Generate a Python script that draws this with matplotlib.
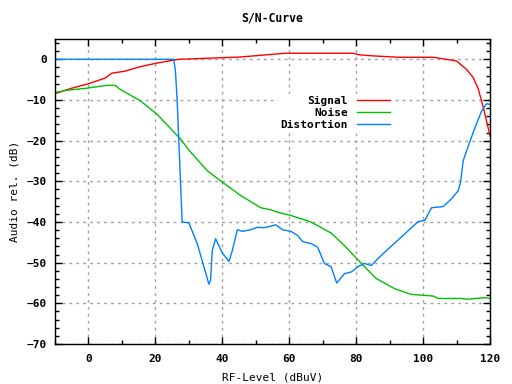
import numpy as np
import matplotlib
matplotlib.use("Agg")
import matplotlib.pyplot as plt
from matplotlib.ticker import MultipleLocator

# Daten
sig_x = [-10, -5, 0, 5, 7, 11, 15, 20, 25, 27, 35, 45, 59, 79, 81, 85, 93, 103,
         107, 110, 113, 115, 116.5, 118, 120]
sig_y = [-8.4, -7.1, -6.0, -4.6, -3.4, -2.9, -1.9, -1.0, -0.25, 0, 0.25, 0.55, 1.5,
         1.5, 1.1, 0.85, 0.5, 0.5, 0, -0.4, -2.5, -4.5, -7.3, -11.8, -18.8]

noise_x = [-10, -6.5, -0.5, 5.5, 8, 9.5, 15.5, 20.5, 27.5, 30, 35.5, 40, 45.5, 51.5,
           54.5, 56.5, 60.5, 66.5, 72.5, 76.5, 80.5, 86, 91.5, 96.5, 103, 104.5,
           111.5, 113, 118.5, 120]
noise_y = [-8.2, -7.6, -7.1, -6.4, -6.4, -7.4, -10.2, -13.5, -19.6, -22.3, -27.4,
           -30.2, -33.5, -36.5, -37, -37.6, -38.4, -40, -42.7, -45.8, -49.3, -53.9,
           -56.4, -57.8, -58.2, -58.8, -58.8, -59, -58.6, -58.8]

dist_x = [-10, 25.5, 26, 26.5, 27, 27.5, 28, 30, 32.5, 34.5, 36, 36.5, 37, 38, 40,
          42, 43, 44.5, 46, 48.5, 50.5, 52.5, 56, 58, 60.5, 62.5, 64, 66.5, 68.5,
          70.5, 72.5, 74.2, 76.5, 78.5, 80.5, 82.5, 84.5, 87.5, 93.5, 98.5, 100.5,
          102.5, 106, 108.5, 110.5, 111.2, 112, 113, 115.5, 117.5, 119, 120]
dist_y = [0, 0, -3, -10, -20, -30, -40, -40.2, -45.3, -51, -55.3, -54.3, -47, -44.1,
          -47.6, -49.7, -47, -41.9, -42.3, -41.9, -41.3, -41.4, -40.7, -41.9, -42.3,
          -43.3, -44.8, -45.3, -46.2, -50.2, -51, -55, -52.7, -52.3, -51, -50.2,
          -50.7, -48.2, -43.7, -39.9, -39.6, -36.5, -36.2, -34.3, -32.3, -30.2,
          -24.9, -22.5, -16.8, -12.7, -10.9, -11.1]

plt.rcParams['font.family'] = 'DejaVu Sans Mono'
plt.rcParams['font.weight'] = 'bold'
plt.rcParams['font.size'] = 8

W, H = 512, 384
fig = plt.figure(figsize=(W / 100, H / 100), dpi=100)
# Achsen in Pixeln: links 55, rechts 490, oben 39, unten 344
ax = fig.add_axes([55 / W, 1 - 344 / H, 435 / W, 305 / H])

ax.plot(sig_x, sig_y, color='#ff0000', lw=1, label='Signal')
ax.plot(noise_x, noise_y, color='#00c000', lw=1, label='Noise')
ax.plot(dist_x, dist_y, color='#0080ff', lw=1, label='Distortion')

ax.set_xlim(-10, 120)
ax.set_ylim(-70, 5)
ax.xaxis.set_major_locator(MultipleLocator(20))
ax.xaxis.set_minor_locator(MultipleLocator(10))
ax.yaxis.set_major_locator(MultipleLocator(10))
ax.yaxis.set_minor_locator(MultipleLocator(2))
ax.tick_params(which='both', direction='in', top=True, right=True, width=1)
ax.tick_params(which='major', length=5)
ax.tick_params(which='minor', length=3)
ax.tick_params(axis='y', pad=6)
ax.tick_params(axis='x', pad=7)
for s in ax.spines.values():
    s.set_linewidth(1)

ax.grid(True, which='major', color='#a0a0a0', linestyle=(0, (2, 3)), lw=1)
ax.set_axisbelow(True)

# Titel mittig bei ca. 18 px von oben
ax.text(0.5, (344 - 18) / 305, 'S/N-Curve', transform=ax.transAxes,
        ha='center', va='center', fontsize=8.3, fontweight='bold')
ax.set_xlabel('RF-Level (dBuV)')
ax.set_ylabel('Audio rel. (dB)')
ax.xaxis.set_label_coords(0.5, -0.111)
ax.yaxis.set_label_coords(-0.092, 0.5)
ax.xaxis.label.set_va('center')
ax.yaxis.label.set_va('center')

leg = ax.legend(loc='center', bbox_to_anchor=(0.644, 0.757), markerfirst=False,
                frameon=True, facecolor='white', edgecolor='none', framealpha=1,
                fancybox=False, handlelength=3.0, handletextpad=0.8,
                labelspacing=0.2, borderpad=0.2, borderaxespad=0)

fig.savefig('out.png', dpi=100)
